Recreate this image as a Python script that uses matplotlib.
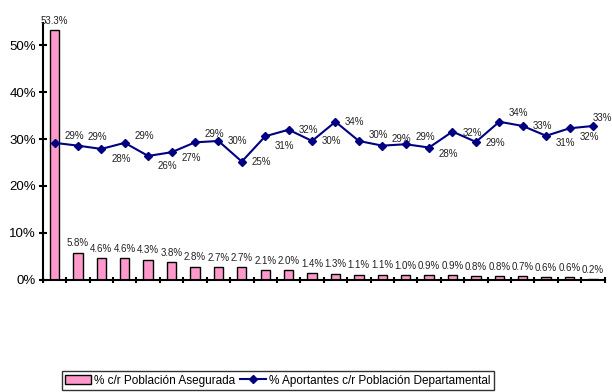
import numpy as np
import matplotlib
matplotlib.use("Agg")
import matplotlib.pyplot as plt
from matplotlib.ticker import PercentFormatter, MultipleLocator, FixedLocator

plt.rcParams['font.family'] = ['Liberation Sans', 'DejaVu Sans']

# share of insured population per department (bars)
asegurada = [53.3, 5.8, 4.6, 4.6, 4.3, 3.8, 2.8, 2.7, 2.7, 2.1, 2.0, 1.4,
             1.3, 1.1, 1.1, 1.0, 0.9, 0.9, 0.8, 0.8, 0.7, 0.6, 0.6, 0.2]
# contributors vs departmental population (line)
aportantes = [29.2, 28.6, 27.9, 29.2, 26.4, 27.2, 29.3, 29.6, 25.2, 30.6, 32.0, 29.6,
              33.7, 29.6, 28.6, 28.9, 28.2, 31.6, 29.4, 33.7, 32.8, 30.7, 32.3, 32.8]

# offsets (points) of each line label
lbl_dy = [5, 6, -7, 5, -7, -4, 6, 0, 0, -7, 0, 0,
          0, 4, 5, 5, -5, -1, -1, 6, 0, -5, -6, 6]
lbl_dx = [7] * 23 + [0]

x = np.arange(len(asegurada))
a = np.array(asegurada) / 100
p = np.array(aportantes) / 100

fig = plt.figure(figsize=(6.12, 3.92), dpi=100)
ax = fig.add_axes([0.070, 0.2865, 0.918, 0.654])

bars = ax.bar(x, a, width=0.4, color='#FF99CC', edgecolor='black', linewidth=1.0,
              label='% c/r Población Asegurada', zorder=2)
line, = ax.plot(x, p, color='#000080', marker='D', markersize=4.5, linewidth=1.5,
                label='% Aportantes c/r Población Departamental', zorder=3)

for xi, v in zip(x, asegurada):
    ax.annotate("{:.1f}%".format(v), (xi, v / 100), xytext=(0, 3), textcoords='offset points',
                ha='center', va='bottom', fontsize=7, color='#222222')

for xi, v, dx, dy in zip(x, aportantes, lbl_dx, lbl_dy):
    ax.annotate("{:.0f}%".format(v), (xi, v / 100), xytext=(dx, dy), textcoords='offset points',
                ha='left', va='center', fontsize=7, color='#222222')

ax.set_xlim(-0.5, len(x) - 0.5)
ax.set_ylim(0, 0.547)
ax.yaxis.set_major_locator(MultipleLocator(0.1))
ax.yaxis.set_major_formatter(PercentFormatter(1.0, decimals=0))
ax.xaxis.set_major_locator(FixedLocator(np.arange(-0.5, len(x), 1.0)))
ax.set_xticklabels([])
ax.tick_params(axis='y', direction='inout', length=6, width=1.5, labelsize=9.5, pad=2)
ax.tick_params(axis='x', direction='inout', length=5, width=1.5)
for s in ['top', 'right']:
    ax.spines[s].set_visible(False)
ax.spines['left'].set_linewidth(1.5)
ax.spines['bottom'].set_linewidth(1.5)

leg = fig.legend(handles=[bars, line], loc='upper left', bbox_to_anchor=(0.101, 0.0536),
                 ncol=2, fontsize=8.5, frameon=True, fancybox=False, edgecolor='black',
                 handlelength=2.2, columnspacing=0.4, handletextpad=0.25, borderpad=0.3,
                 borderaxespad=0)
leg.get_frame().set_linewidth(1.0)

fig.savefig("out.png", dpi=100)
